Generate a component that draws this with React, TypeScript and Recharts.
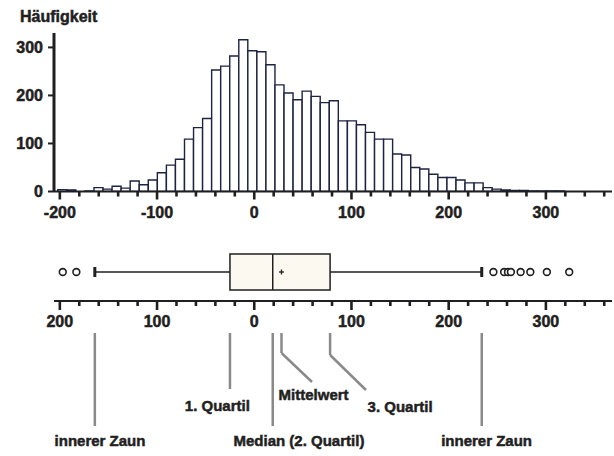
import { Bar, ComposedChart, ReferenceArea, ReferenceDot, ReferenceLine, Scatter, XAxis, YAxis } from 'recharts'

// histogram bins: left edge of the first bin and bin width (x units)
const FIRST_EDGE = -202.1
const BIN_WIDTH = 9.31

// Häufigkeit per bin, left to right
const counts = [
	4, 3, 0, 1, 8, 5, 11, 7, 22, 14, 24, 39, 55, 67, 109, 133, 152, 253, 261, 282, 316, 293, 291, 264, 222, 205, 191,
	209, 198, 185, 189, 147, 147, 139, 123, 109, 109, 78, 76, 50, 47, 36, 29, 29, 24, 18, 18, 8, 5, 3, 2, 2, 1, 1, 1, 1,
]

const xTicks = [
	-200, -180, -160, -140, -120, -100, -80, -60, -40, -20, 0, 20, 40, 60, 80, 100, 120, 140, 160, 180, 200, 220, 240,
	260, 280, 300, 320, 340, 360,
]
const yTicks = [0, 100, 200, 300]

// box plot statistics
const lowerFence = -164
const q1 = -25
const median = 19
const mean = 28
const q3 = 78
const upperFence = 234
const outliers = [-197, -183, 246, 257, 261, 264, 274, 284, 301, 324]

const X_DOMAIN: [number, number] = [-206, 368]
const INK = '#1f1f22'
const BAR_INK = '#1d2340'
const NOTE = '#8a8a8a'
const FONT = '"Liberation Sans", Arial, sans-serif'

// box row sits ROW px above the lower axis, box half height HALF
const ROW = 29
const HALF = 18

const histData = counts.map((count, i) => ({ mid: FIRST_EDGE + (i + 0.5) * BIN_WIDTH, count }))
const outlierData = outliers.map((x) => ({ x, y: ROW }))
const meanData = [{ x: mean, y: ROW }]

// heavy text: bold plus a thin outline in the same colour
const heavy = { fill: INK, stroke: INK, strokeWidth: 0.5, fontWeight: 700, fontFamily: FONT }
const noteStyle = { ...heavy, fontSize: 15 }

function makeTick(label: (v: number) => string, majorLen: number, minorLen: number) {
	return (props: any) => {
		const { x, y, payload } = props
		const v = payload.value as number
		const isMajor = v % 100 === 0
		return (
			<g>
				<line x1={x} x2={x} y1={y} y2={y + (isMajor ? majorLen : minorLen)} stroke={INK} strokeWidth={2.6} />
				{isMajor && (
					<text x={x} y={y + 26} textAnchor="middle" fontSize={16} {...heavy}>
						{label(v)}
					</text>
				)}
			</g>
		)
	}
}

const histTick = makeTick((v) => String(v), 8, 5)
const boxTick = makeTick((v) => String(Math.abs(v)), 9, 5)

function OutlierDot(props: any) {
	return <circle cx={props.cx} cy={props.cy} r={3.4} fill="#fff" stroke={INK} strokeWidth={1.6} />
}

function MeanCross(props: any) {
	const { cx, cy } = props
	return (
		<g stroke={INK} strokeWidth={1.3}>
			<line x1={cx - 2.5} x2={cx + 2.5} y1={cy} y2={cy} />
			<line x1={cx} x2={cx} y1={cy - 2.5} y2={cy + 2.5} />
		</g>
	)
}

function Note({ x, y, text }: { x: number; y: number; text: string }) {
	return <ReferenceDot x={x} y={y} r={0} ifOverflow="visible" label={{ value: text, position: 'center', ...noteStyle }} />
}

export default function App() {
	return (
		<div style={{ position: 'absolute', left: 0, top: 0, width: 614, height: 456, background: '#fff' }}>
			<svg style={{ position: 'absolute', left: 0, top: 0 }} width={120} height={30}>
				<text x={20} y={22} fontSize={16} {...heavy}>
					Häufigkeit
				</text>
			</svg>
			<div style={{ position: 'absolute', left: 0, top: 0 }}>
				<ComposedChart
					width={614}
					height={230}
					data={histData}
					margin={{ top: 33, right: 2, bottom: 0, left: 8 }}
					barCategoryGap={0}
					barGap={0}
				>
					<XAxis
						type="number"
						dataKey="mid"
						domain={X_DOMAIN}
						allowDataOverflow
						ticks={xTicks}
						interval={0}
						tickSize={0}
						tickMargin={0}
						tick={histTick}
						tickLine={false}
						height={38.5}
						axisLine={{ stroke: INK, strokeWidth: 2 }}
					/>
					<YAxis
						type="number"
						domain={[0, 330]}
						allowDataOverflow
						ticks={yTicks}
						interval={0}
						width={46}
						tickSize={6}
						tickMargin={5}
						axisLine={{ stroke: INK, strokeWidth: 3 }}
						tickLine={{ stroke: INK, strokeWidth: 2 }}
						tick={{ fontSize: 16, ...heavy }}
					/>
					<Bar dataKey="count" fill="#fff" stroke={BAR_INK} strokeWidth={1.4} isAnimationActive={false} />
				</ComposedChart>
			</div>
			<div style={{ position: 'absolute', left: 0, top: 231 }}>
				<ComposedChart width={614} height={225} margin={{ top: 0, right: 2, bottom: 0, left: 54 }}>
					<XAxis
						type="number"
						dataKey="x"
						domain={X_DOMAIN}
						allowDataOverflow
						ticks={xTicks}
						interval={0}
						tickSize={0}
						tickMargin={0}
						tick={boxTick}
						tickLine={false}
						height={155}
						axisLine={{ stroke: INK, strokeWidth: 2 }}
					/>
					<YAxis type="number" dataKey="y" domain={[0, 70]} allowDataOverflow hide />

					{/* whiskers and caps */}
					<ReferenceLine segment={[{ x: lowerFence, y: ROW }, { x: q1, y: ROW }]} stroke={INK} strokeWidth={1.5} />
					<ReferenceLine segment={[{ x: q3, y: ROW }, { x: upperFence, y: ROW }]} stroke={INK} strokeWidth={1.5} />
					<ReferenceLine segment={[{ x: lowerFence, y: ROW - 5 }, { x: lowerFence, y: ROW + 5 }]} stroke={INK} strokeWidth={3} />
					<ReferenceLine segment={[{ x: upperFence, y: ROW - 5 }, { x: upperFence, y: ROW + 5 }]} stroke={INK} strokeWidth={3} />

					{/* box and median */}
					<ReferenceArea x1={q1} x2={q3} y1={ROW - HALF} y2={ROW + HALF} fill="#fcf9f0" fillOpacity={1} stroke={INK} strokeWidth={1.5} />
					<ReferenceLine segment={[{ x: median, y: ROW - HALF }, { x: median, y: ROW + HALF }]} stroke={INK} strokeWidth={1.5} />

					<Scatter data={outlierData} shape={OutlierDot} isAnimationActive={false} />
					<Scatter data={meanData} shape={MeanCross} isAnimationActive={false} />

					{/* pointer lines under the axis */}
					<ReferenceLine ifOverflow="visible" segment={[{ x: lowerFence, y: -32 }, { x: lowerFence, y: -125 }]} stroke={NOTE} strokeWidth={2.5} />
					<ReferenceLine ifOverflow="visible" segment={[{ x: q1, y: -32 }, { x: q1, y: -88 }]} stroke={NOTE} strokeWidth={2.5} />
					<ReferenceLine ifOverflow="visible" segment={[{ x: median, y: -32 }, { x: median, y: -125 }]} stroke={NOTE} strokeWidth={2.5} />
					<ReferenceLine ifOverflow="visible" segment={[{ x: mean, y: -32 }, { x: mean, y: -52 }]} stroke={NOTE} strokeWidth={2.5} />
					<ReferenceLine ifOverflow="visible" segment={[{ x: mean, y: -52 }, { x: 59.4, y: -81 }]} stroke={NOTE} strokeWidth={2.5} />
					<ReferenceLine ifOverflow="visible" segment={[{ x: q3, y: -32 }, { x: q3, y: -54 }]} stroke={NOTE} strokeWidth={2.5} />
					<ReferenceLine ifOverflow="visible" segment={[{ x: q3, y: -54 }, { x: 114.9, y: -89 }]} stroke={NOTE} strokeWidth={2.5} />
					<ReferenceLine ifOverflow="visible" segment={[{ x: upperFence, y: -32 }, { x: upperFence, y: -125 }]} stroke={NOTE} strokeWidth={2.5} />

					{Note({ x: -38, y: -105, text: '1. Quartil' })}
					{Note({ x: 61, y: -94, text: 'Mittelwert' })}
					{Note({ x: 150, y: -106, text: '3. Quartil' })}
					{Note({ x: -158.7, y: -140, text: 'innerer Zaun' })}
					{Note({ x: 46, y: -140, text: 'Median (2. Quartil)' })}
					{Note({ x: 239, y: -140, text: 'innerer Zaun' })}
				</ComposedChart>
			</div>
		</div>
	)
}
